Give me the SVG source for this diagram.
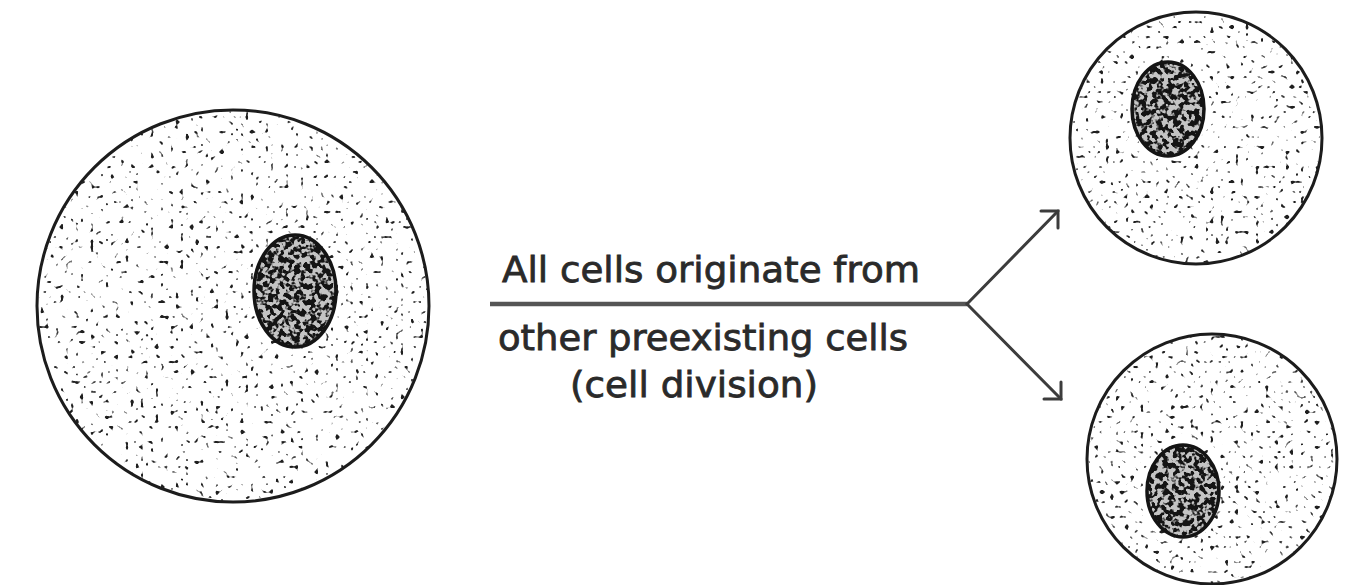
<svg xmlns="http://www.w3.org/2000/svg" width="1353" height="585" viewBox="0 0 1353 585">
  <style>
    .membrane { fill: none; stroke: #1c1c1c; stroke-width: 3; }
    .envelope { fill: none; stroke: #141414; stroke-width: 3.5; }
    .cytoplasm { fill: #ffffff; }
    .karyoplasm { fill: #c4c4c4; }
    .label { font-family: "DejaVu Sans", "Liberation Sans", sans-serif; font-size: 36px; fill: #2a2a2a; stroke: #2a2a2a; stroke-width: 0.8px; }
    .trunk { fill: none; stroke: #555555; stroke-width: 4.5; }
    .branch { fill: none; stroke: #3c3c3c; stroke-width: 3; stroke-linecap: round; stroke-linejoin: miter; }
  </style>
  <defs>
    <!-- sparse random granules for the cytoplasm -->
    <filter id="stippleA" color-interpolation-filters="sRGB" x="0" y="0" width="1" height="1">
      <feTurbulence type="fractalNoise" baseFrequency="0.2" numOctaves="1" seed="4"/>
      <feColorMatrix type="matrix" values="0 0 0 0 0.12  0 0 0 0 0.12  0 0 0 0 0.12  12 0 0 0 -7.75"/>
    </filter>
    <filter id="stippleB" color-interpolation-filters="sRGB" x="0" y="0" width="1" height="1">
      <feTurbulence type="fractalNoise" baseFrequency="0.2" numOctaves="1" seed="11"/>
      <feColorMatrix type="matrix" values="0 0 0 0 0.12  0 0 0 0 0.12  0 0 0 0 0.12  12 0 0 0 -7.75"/>
    </filter>
    <filter id="stippleC" color-interpolation-filters="sRGB" x="0" y="0" width="1" height="1">
      <feTurbulence type="fractalNoise" baseFrequency="0.2" numOctaves="1" seed="23"/>
      <feColorMatrix type="matrix" values="0 0 0 0 0.12  0 0 0 0 0.12  0 0 0 0 0.12  12 0 0 0 -7.75"/>
    </filter>
    <!-- mottled chromatin for the nuclei -->
    <filter id="chromatin" color-interpolation-filters="sRGB" x="0" y="0" width="1" height="1">
      <feTurbulence type="fractalNoise" baseFrequency="0.19" numOctaves="2" seed="7"/>
      <feColorMatrix type="matrix" values="0 0 0 0 0.08  0 0 0 0 0.08  0 0 0 0 0.08  -9 0 0 0 5.05"/>
    </filter>

    <clipPath id="clipParent"><circle cx="233" cy="306" r="195"/></clipPath>
    <clipPath id="clipTop"><circle cx="1196" cy="138" r="125"/></clipPath>
    <clipPath id="clipBottom"><circle cx="1212" cy="459" r="124"/></clipPath>
    <clipPath id="clipNucParent"><ellipse cx="295" cy="291" rx="41" ry="56"/></clipPath>
    <clipPath id="clipNucTop"><ellipse cx="1168" cy="109" rx="36" ry="47"/></clipPath>
    <clipPath id="clipNucBottom"><ellipse cx="1183" cy="491" rx="36" ry="46"/></clipPath>
  </defs>

  <rect width="1353" height="585" fill="#ffffff"/>

  <!-- parent cell -->
  <g id="cell-parent">
    <circle class="cytoplasm" cx="233" cy="306" r="196"/>
    <g clip-path="url(#clipParent)">
      <rect x="36" y="109" width="394" height="394" filter="url(#stippleA)"/>
    </g>
    <circle class="membrane" cx="233" cy="306" r="196"/>
    <ellipse class="karyoplasm" cx="295" cy="291" rx="41" ry="56"/>
    <g clip-path="url(#clipNucParent)">
      <rect x="252" y="233" width="86" height="116" filter="url(#chromatin)"/>
    </g>
    <ellipse class="envelope" cx="295" cy="291" rx="41" ry="56"/>
  </g>

  <!-- daughter cell, upper -->
  <g id="cell-daughter-top">
    <circle class="cytoplasm" cx="1196" cy="138" r="126"/>
    <g clip-path="url(#clipTop)">
      <rect x="1069" y="11" width="254" height="254" filter="url(#stippleB)"/>
    </g>
    <circle class="membrane" cx="1196" cy="138" r="126"/>
    <ellipse class="karyoplasm" cx="1168" cy="109" rx="36" ry="47"/>
    <g clip-path="url(#clipNucTop)">
      <rect x="1130" y="60" width="76" height="98" filter="url(#chromatin)"/>
    </g>
    <ellipse class="envelope" cx="1168" cy="109" rx="36" ry="47"/>
  </g>

  <!-- daughter cell, lower -->
  <g id="cell-daughter-bottom">
    <circle class="cytoplasm" cx="1212" cy="459" r="125"/>
    <g clip-path="url(#clipBottom)">
      <rect x="1086" y="333" width="252" height="252" filter="url(#stippleC)"/>
    </g>
    <circle class="membrane" cx="1212" cy="459" r="125"/>
    <ellipse class="karyoplasm" cx="1183" cy="491" rx="36" ry="46"/>
    <g clip-path="url(#clipNucBottom)">
      <rect x="1145" y="443" width="76" height="96" filter="url(#chromatin)"/>
    </g>
    <ellipse class="envelope" cx="1183" cy="491" rx="36" ry="46"/>
  </g>

  <!-- division connector: trunk splitting into two arrows -->
  <g id="connectors">
    <path class="trunk" d="M490 304 H967"/>
    <path class="branch" d="M967 304 L1058 211"/>
    <path class="branch" d="M1041 211 H1058 V228"/>
    <path class="branch" d="M967 304 L1061 399"/>
    <path class="branch" d="M1044 399 H1061 V382"/>
  </g>

  <!-- caption -->
  <g id="caption">
    <text class="label" x="502" y="282" textLength="418" lengthAdjust="spacingAndGlyphs">All cells originate from</text>
    <text class="label" x="498" y="350" textLength="410" lengthAdjust="spacingAndGlyphs">other preexisting cells</text>
    <text class="label" x="570" y="397" textLength="248" lengthAdjust="spacingAndGlyphs">(cell division)</text>
  </g>
</svg>
